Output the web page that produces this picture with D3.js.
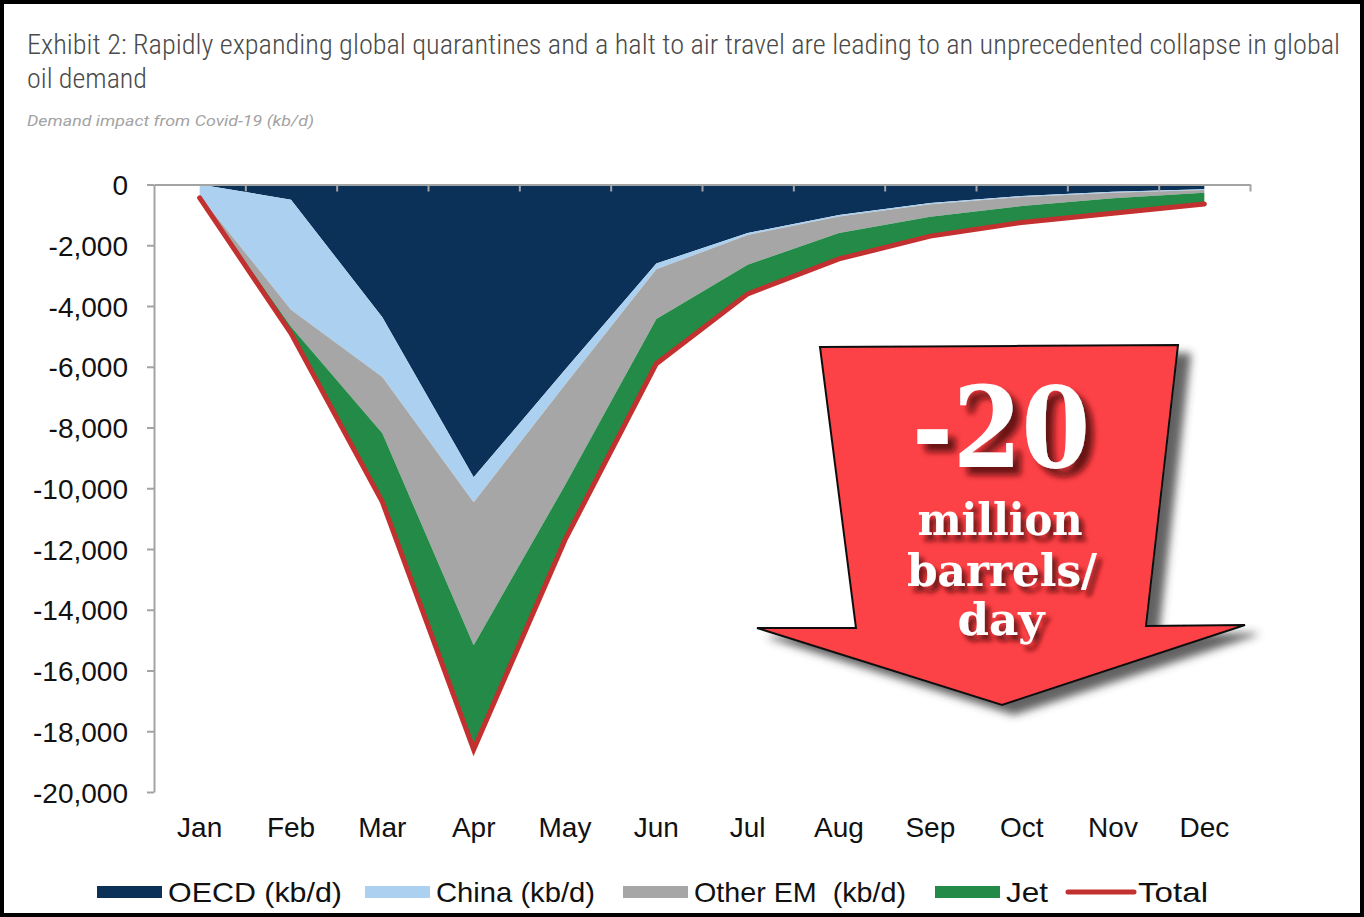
<!DOCTYPE html>
<html>
<head>
<meta charset="utf-8">
<script src="https://cdn.jsdelivr.net/npm/d3@7"></script>
<style>
  html, body { margin: 0; padding: 0; background: #fff; }
  svg { display: block; }
</style>
</head>
<body>
<svg id="chart" width="1364" height="917"></svg>
<script>
// ---------------- DATA ----------------
const months = ["Jan","Feb","Mar","Apr","May","Jun","Jul","Aug","Sep","Oct","Nov","Dec"];
const oecd    = [0, -500, -4370, -9640, -6100, -2600, -1600, -1000, -610, -380, -240, -160];
const china   = [-380, -3620, -1970, -820, -490, -190, -60, -50, -40, -30, -30, -20];
const otherEM = [-30, -560, -1850, -4710, -3310, -1640, -980, -550, -410, -300, -180, -90];
const jet     = [-30, -220, -2260, -3430, -1800, -1470, -960, -850, -640, -540, -500, -370];
const total   = [-440, -4900, -10450, -18600, -11700, -5900, -3600, -2450, -1700, -1250, -950, -640];
const yTicks  = [0, -2000, -4000, -6000, -8000, -10000, -12000, -14000, -16000, -18000, -20000];
const seriesNames = ["OECD (kb/d)", "China (kb/d)", "Other EM  (kb/d)", "Jet", "Total"];
const seriesColors = ["#0b3159", "#acd1f0", "#a6a6a6", "#238a48", "#c2302f"];
const titleLines = ["Exhibit 2: Rapidly expanding global quarantines and a halt to air travel are leading to an unprecedented collapse in global", "oil demand"];
const subtitle = "Demand impact from Covid-19 (kb/d)";
const calloutBig = "-20";
const calloutLines = ["million", "barrels/", "day"];

// ---------------- SETUP ----------------
(function draw() {
const svg = d3.select("#chart");
const W = 1364, H = 917;
const pLeft = 154, pRight = 1250, pTop = 184.5, pBottom = 792;

const fmt = d3.formatLocale({decimal: ".", thousands: ",", grouping: [3], currency: ["", ""], minus: "-"}).format(",");

const x = d3.scaleBand().domain(months).range([pLeft, pRight]).padding(0);
const xc = m => x(m) + x.bandwidth() / 2;
const xEdge = d3.scaleLinear().domain([0, months.length]).range([pLeft, pRight]);
const y = d3.scaleLinear().domain([-20000, 0]).range([pBottom, pTop]);

svg.append("rect").attr("x", 0).attr("y", 0).attr("width", W).attr("height", H).attr("fill", "#fff");

const defs = svg.append("defs");
const f1 = defs.append("filter").attr("id", "arrowShadow").attr("x", "-20%").attr("y", "-20%").attr("width", "150%").attr("height", "150%");
f1.append("feDropShadow").attr("dx", 12).attr("dy", 9).attr("stdDeviation", 4)
  .attr("flood-color", "#3a3a3a").attr("flood-opacity", 0.8);
const f2 = defs.append("filter").attr("id", "textShadow").attr("x", "-20%").attr("y", "-20%").attr("width", "150%").attr("height", "150%");
f2.append("feDropShadow").attr("dx", 8).attr("dy", 8).attr("stdDeviation", 3)
  .attr("flood-color", "#5a1010").attr("flood-opacity", 0.9);
const f3 = defs.append("filter").attr("id", "textShadowSm").attr("x", "-20%").attr("y", "-30%").attr("width", "150%").attr("height", "170%");
f3.append("feDropShadow").attr("dx", 5).attr("dy", 6).attr("stdDeviation", 2.5)
  .attr("flood-color", "#5a1010").attr("flood-opacity", 0.85);

// ---------------- TITLE ----------------
const titleFont = "'Roboto Condensed','Liberation Sans Narrow','DejaVu Sans Condensed',Roboto,sans-serif";
svg.append("text").attr("x", 27).attr("y", 54).text(titleLines[0])
  .attr("font-family", titleFont).attr("font-stretch", "condensed").attr("font-weight", 300)
  .attr("font-size", 28).attr("fill", "#4a4a4a")
  .attr("textLength", 1313).attr("lengthAdjust", "spacingAndGlyphs");
svg.append("text").attr("x", 27).attr("y", 88).text(titleLines[1])
  .attr("font-family", titleFont).attr("font-stretch", "condensed").attr("font-weight", 300)
  .attr("font-size", 28).attr("fill", "#4a4a4a")
  .attr("textLength", 120).attr("lengthAdjust", "spacingAndGlyphs");
svg.append("text").attr("x", 27).attr("y", 126).text(subtitle)
  .attr("font-family", "'Liberation Sans Narrow',Roboto,'Liberation Sans',sans-serif")
  .attr("font-style", "italic").attr("font-size", 15).attr("fill", "#a3a3a3")
  .attr("textLength", 287).attr("lengthAdjust", "spacingAndGlyphs");

// ---------------- STACKED AREAS ----------------
const rows = months.map((m, i) => ({month: m, oecd: oecd[i], china: china[i], otherEM: otherEM[i], jet: jet[i]}));
const keys = ["oecd", "china", "otherEM", "jet"];
const stack = d3.stack().keys(keys).offset(d3.stackOffsetDiverging).order(d3.stackOrderNone);
const layers = stack(rows);

const area = d3.area()
  .x(d => xc(d.data.month))
  .y0(d => y(d[0]))
  .y1(d => y(d[1]));

svg.append("g").selectAll("path").data(layers).join("path")
  .attr("d", area)
  .attr("fill", (d, i) => seriesColors[i]);

// Total line
const line = d3.line().x((d, i) => xc(months[i])).y(d => y(d));
svg.append("path").datum(total)
  .attr("d", line)
  .attr("fill", "none")
  .attr("stroke", seriesColors[4])
  .attr("stroke-width", 5)
  .attr("stroke-linejoin", "miter")
  .attr("stroke-linecap", "round");

// ---------------- AXES ----------------
const axisColor = "#a3a3a3";
const gx = svg.append("g").attr("transform", `translate(0,${y(0)})`)
  .call(d3.axisBottom(xEdge).tickValues(d3.range(1, months.length + 1)).tickSize(7).tickSizeOuter(0).tickFormat(""));
gx.select(".domain").attr("stroke", axisColor).attr("stroke-width", 2);
gx.selectAll(".tick line").attr("stroke", axisColor).attr("stroke-width", 2);

const gy = svg.append("g").attr("transform", `translate(${pLeft},0)`)
  .call(d3.axisLeft(y).tickValues(yTicks).tickSize(7).tickSizeOuter(0).tickPadding(19).tickFormat(d => fmt(d)));
gy.select(".domain").attr("stroke", axisColor).attr("stroke-width", 2);
gy.selectAll(".tick line").attr("stroke", axisColor).attr("stroke-width", 2);
gy.selectAll(".tick text")
  .attr("font-family", "'Liberation Sans',Arial,sans-serif")
  .attr("font-size", 28).attr("fill", "#111").attr("dy", "0.36em");

const gm = svg.append("g").attr("transform", `translate(0,${pBottom + 20})`)
  .call(d3.axisBottom(x).tickSize(0).tickPadding(0));
gm.select(".domain").remove();
gm.selectAll(".tick text")
  .attr("font-family", "'Liberation Sans',Arial,sans-serif")
  .attr("font-size", 28).attr("fill", "#111").attr("dy", "0.9em");

// ---------------- LEGEND ----------------
const legendY = 892;
const legendSwatchX = [97, 365, 623, 935, 1068];
const legendTextW = [174, 159, 212, 42, 70];
const lg = svg.append("g");
seriesNames.forEach((name, i) => {
  const sx = legendSwatchX[i];
  if (i < 4) {
    lg.append("rect").attr("x", sx).attr("y", legendY - 6).attr("width", 65).attr("height", 12)
      .attr("fill", seriesColors[i]);
  } else {
    lg.append("line").attr("x1", sx).attr("x2", sx + 66).attr("y1", legendY).attr("y2", legendY)
      .attr("stroke", seriesColors[i]).attr("stroke-width", 5).attr("stroke-linecap", "round");
  }
  lg.append("text").attr("x", sx + (i < 4 ? 71 : 70)).attr("y", legendY).attr("dy", "0.36em")
    .text(name)
    .attr("font-family", "'Liberation Sans',Arial,sans-serif")
    .attr("font-size", 28).attr("fill", "#111")
    .attr("textLength", legendTextW[i]).attr("lengthAdjust", "spacingAndGlyphs")
    .style("white-space", "pre");
});

// ---------------- CALLOUT ARROW ----------------
const arrowPts = [[820,347],[1178,345],[1146,626],[1245,625],[1002,705],[757,628],[856,628]];
svg.append("polygon")
  .attr("points", arrowPts.map(p => p.join(",")).join(" "))
  .attr("fill", "#fd4246")
  .attr("stroke", "#111")
  .attr("stroke-width", 2)
  .attr("stroke-linejoin", "miter")
  .attr("filter", "url(#arrowShadow)");

const calloutFont = "'DejaVu Serif','Liberation Serif',serif";
svg.append("text").attr("x", 1001).attr("y", 467).attr("text-anchor", "middle")
  .text(calloutBig)
  .attr("font-family", calloutFont).attr("font-weight", "bold")
  .attr("font-size", 112).attr("fill", "#fff")
  .attr("textLength", 178).attr("lengthAdjust", "spacingAndGlyphs")
  .attr("filter", "url(#textShadow)");
const calloutY = [535, 586, 635];
const calloutW = [165, 190, 87];
const calloutX = [1000, 1002, 1001];
calloutLines.forEach((t, i) => {
  svg.append("text").attr("x", calloutX[i]).attr("y", calloutY[i]).attr("text-anchor", "middle")
    .text(t)
    .attr("font-family", calloutFont).attr("font-weight", "bold")
    .attr("font-size", 44).attr("fill", "#fff")
    .attr("textLength", calloutW[i]).attr("lengthAdjust", "spacingAndGlyphs")
    .attr("filter", "url(#textShadowSm)");
});

// ---------------- BORDER ----------------
svg.append("rect").attr("x", 0).attr("y", 0).attr("width", W).attr("height", H)
  .attr("fill", "none").attr("stroke", "#000").attr("stroke-width", 8);
})();
</script>
</body>
</html>
